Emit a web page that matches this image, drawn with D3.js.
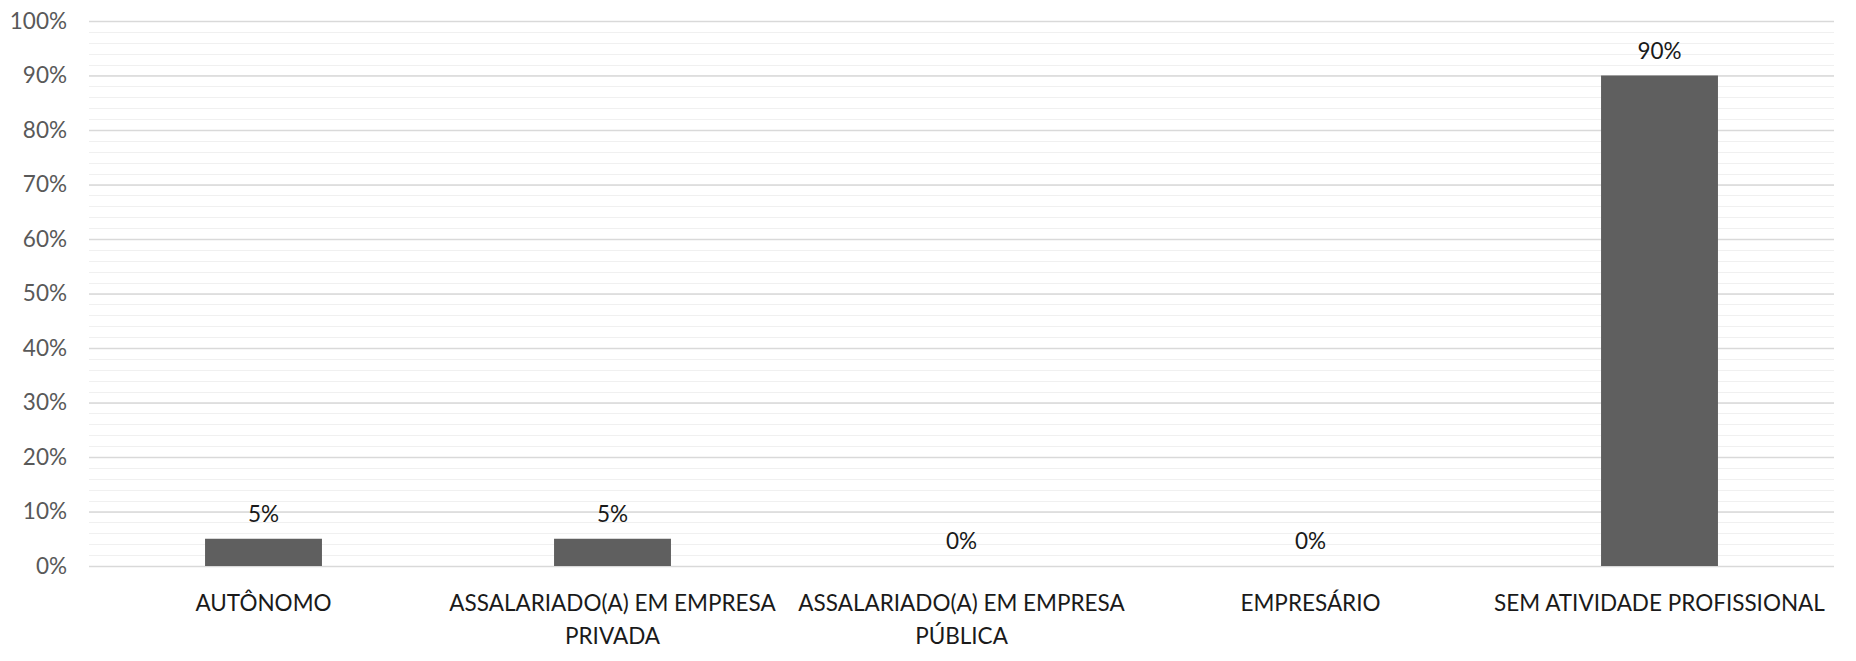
<!DOCTYPE html>
<html lang="pt">
<head>
<meta charset="utf-8" />
<title>Atividade profissional</title>
<style>
  body { margin: 0; background: #fff; }
  svg { display: block; }
</style>
</head>
<body>
<div id="chart"></div>
<script src="https://d3js.org/d3.v7.min.js"></script>
<script>
  const categories = [
    'AUTÔNOMO',
    'ASSALARIADO(A) EM EMPRESA PRIVADA',
    'ASSALARIADO(A) EM EMPRESA PÚBLICA',
    'EMPRESÁRIO',
    'SEM ATIVIDADE PROFISSIONAL'
  ];
  const values = [0.05, 0.05, 0, 0, 0.90];
  const majorTicks = [0, 0.1, 0.2, 0.3, 0.4, 0.5, 0.6, 0.7, 0.8, 0.9, 1.0];
  const minorTicks = d3.range(0, 51).map(i => i / 50);

  const width = 1856;
  const height = 661;
  const margin = { top: 21, right: 22, bottom: 95, left: 89 };
  const font = 'Lato, "Open Sans", sans-serif';
  const fontSize = '22.5px';

  const svg = d3.select('#chart')
    .append('svg')
    .attr('width', width)
    .attr('height', height);

  const x = d3.scaleBand()
    .domain(categories)
    .range([margin.left, width - margin.right])
    .paddingInner(0.665)
    .paddingOuter(0.3325);

  const y = d3.scaleLinear()
    .domain([0, 1])
    .range([height - margin.bottom, margin.top]);

  // minor gridlines
  svg.append('g')
    .selectAll('line')
    .data(minorTicks)
    .enter()
    .append('line')
    .attr('x1', margin.left)
    .attr('x2', width - margin.right)
    .attr('y1', d => Math.round(y(d)) + 0.5)
    .attr('y2', d => Math.round(y(d)) + 0.5)
    .attr('stroke', '#f0f0f0')
    .attr('stroke-width', 1);

  // major gridlines + labels
  const yAxis = d3.axisLeft(y)
    .tickValues(majorTicks)
    .tickFormat(d3.format('.0%'))
    .tickSize(-(width - margin.left - margin.right))
    .tickPadding(22);

  const gy = svg.append('g')
    .attr('transform', `translate(${margin.left},0)`)
    .call(yAxis);
  gy.select('.domain').remove();
  gy.selectAll('.tick line')
    .attr('stroke', '#d9d9d9')
    .attr('stroke-width', 1.3);
  gy.selectAll('.tick text')
    .attr('fill', '#595959')
    .style('font-family', font)
    .style('font-size', fontSize);

  // bars
  svg.append('g')
    .selectAll('rect')
    .data(values)
    .enter()
    .append('rect')
    .attr('x', (d, i) => x(categories[i]))
    .attr('y', d => y(d))
    .attr('width', x.bandwidth())
    .attr('height', d => y(0) - y(d))
    .attr('fill', '#5f5f5f');

  // value labels
  svg.append('g')
    .selectAll('text')
    .data(values)
    .enter()
    .append('text')
    .attr('x', (d, i) => x(categories[i]) + x.bandwidth() / 2)
    .attr('y', d => y(d) - 17)
    .attr('text-anchor', 'middle')
    .attr('fill', '#1a1a1a')
    .style('font-family', font)
    .style('font-size', fontSize)
    .text(d => d3.format('.0%')(d));

  // category labels, wrapped to the band step
  const xAxis = d3.axisBottom(x).tickSize(0).tickPadding(29);
  const gx = svg.append('g')
    .attr('transform', `translate(0,${y(0)})`)
    .call(xAxis);
  gx.select('.domain').remove();
  gx.selectAll('.tick text')
    .attr('fill', '#1a1a1a')
    .style('font-family', font)
    .style('font-size', fontSize)
    .call(wrap, x.step());

  function wrap(texts, maxWidth) {
    texts.each(function () {
      const text = d3.select(this);
      const words = text.text().split(/\s+/);
      const yPos = text.attr('y');
      const dy = parseFloat(text.attr('dy'));
      let line = [];
      let lineNo = 0;
      let tspan = text.text(null).append('tspan')
        .attr('x', 0).attr('y', yPos).attr('dy', dy + 'em');
      words.forEach(word => {
        line.push(word);
        tspan.text(line.join(' '));
        if (tspan.node().getComputedTextLength() > maxWidth && line.length > 1) {
          line.pop();
          tspan.text(line.join(' '));
          line = [word];
          lineNo += 1;
          tspan = text.append('tspan')
            .attr('x', 0).attr('y', yPos)
            .attr('dy', (dy + lineNo * 1.45) + 'em')
            .text(word);
        }
      });
    });
  }
</script>
</body>
</html>
